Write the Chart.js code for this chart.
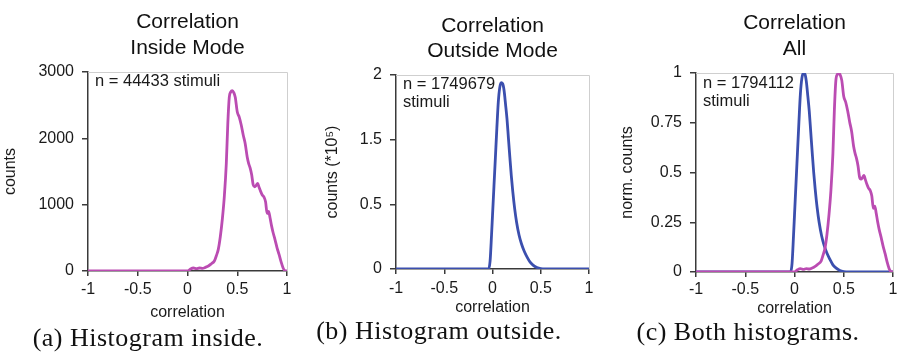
<!DOCTYPE html>
<html>
<head>
<meta charset="utf-8">
<title>Correlation histograms</title>
<script src="https://cdn.jsdelivr.net/npm/chart.js@4.4.1/dist/chart.umd.min.js"></script>
<style>
  html, body { margin: 0; padding: 0; background: #fff; }
  #fig { position: relative; width: 902px; height: 354px; overflow: hidden; }
  canvas { position: absolute; top: 0; }
  .caption {
    position: absolute;
    font-family: "Liberation Serif", "Times New Roman", serif;
    font-size: 26px;
    letter-spacing: 0.5px;
    color: #111;
    white-space: nowrap;
    line-height: 1;
    transform: translate(-50%, -50%);
  }
</style>
</head>
<body>
<div id="fig">
  <canvas id="chartInside" width="300" height="354" style="left:0px"></canvas>
  <canvas id="chartOutside" width="300" height="354" style="left:300px"></canvas>
  <canvas id="chartAll" width="302" height="354" style="left:600px"></canvas>
  <div class="caption" style="left:148px; top:338px">(a) Histogram inside.</div>
  <div class="caption" style="left:439px; top:331px">(b) Histogram outside.</div>
  <div class="caption" style="left:748px; top:332px">(c) Both histograms.</div>
</div>
<script>
// ---- data -------------------------------------------------------------
// correlation axis
const xTickValues = [-1, -0.5, 0, 0.5, 1];
const xTickLabels = ['-1', '-0.5', '0', '0.5', '1'];

// inside-mode histogram (counts per bin)
const insideX = [-1, 0, 0.03, 0.06, 0.09, 0.12, 0.15, 0.18, 0.21, 0.24, 0.27, 0.29, 0.31, 0.33,
  0.35, 0.37, 0.39, 0.405, 0.42, 0.435, 0.45, 0.465, 0.48, 0.50, 0.52, 0.54, 0.56, 0.58, 0.60,
  0.615, 0.63, 0.645, 0.66, 0.675, 0.69, 0.705, 0.72, 0.735, 0.75, 0.77, 0.785, 0.80, 0.815,
  0.83, 0.845, 0.86, 0.88, 0.90, 0.92, 0.94, 0.96, 0.975, 0.99, 1];
const insideCounts = [0, 0, 30, 45, 35, 45, 40, 55, 75, 110, 150, 230, 330, 520,
  780, 1120, 1620, 2220, 2620, 2700, 2720, 2690, 2620, 2400, 2320, 2200, 2050, 1920, 1720,
  1620, 1550, 1450, 1300, 1270, 1290, 1320, 1260, 1200, 1150, 1110, 1040, 870, 900,
  800, 680, 580, 470, 350, 250, 140, 50, 10, 0, 0];
const insideTicks = [0, 1000, 2000, 3000];

// outside-mode histogram (counts, axis units of 10^5)
const outsideX = [-1, -0.04, -0.025, -0.01, 0, 0.015, 0.03, 0.045, 0.06, 0.075, 0.09, 0.105,
  0.12, 0.135, 0.15, 0.165, 0.18, 0.195, 0.21, 0.23, 0.25, 0.275, 0.30, 0.33, 0.36, 0.39,
  0.42, 0.46, 0.50, 0.55, 1];
const outsideCounts = [0, 0, 0.08, 0.35, 0.55, 0.85, 1.15, 1.45, 1.72, 1.87, 1.92, 1.91,
  1.84, 1.70, 1.55, 1.35, 1.15, 0.96, 0.80, 0.62, 0.48, 0.35, 0.26, 0.18, 0.12, 0.07,
  0.04, 0.015, 0.003, 0, 0];
const outsideTickLabels = ['0', '0.5', '1.5', '2'];
const outsideTickValues = [0, 0.6667, 1.3333, 2];

// both histograms, normalised to their peaks
const allInsideNorm = [0, 0, 0.011, 0.017, 0.013, 0.017, 0.015, 0.020, 0.028, 0.040, 0.055, 0.085,
  0.121, 0.191, 0.287, 0.412, 0.596, 0.816, 0.963, 0.993, 1.000, 0.989, 0.963, 0.882, 0.853,
  0.809, 0.754, 0.706, 0.632, 0.596, 0.570, 0.533, 0.478, 0.467, 0.474, 0.485, 0.463, 0.441,
  0.423, 0.408, 0.382, 0.320, 0.331, 0.294, 0.250, 0.213, 0.173, 0.129, 0.092, 0.051, 0.018,
  0.004, 0, 0];
const allOutsideNorm = [0, 0, 0.042, 0.182, 0.286, 0.443, 0.599, 0.755, 0.896, 0.974, 1.000,
  0.995, 0.958, 0.885, 0.807, 0.703, 0.599, 0.500, 0.417, 0.323, 0.250, 0.182, 0.135, 0.094,
  0.063, 0.036, 0.021, 0.008, 0.002, 0, 0];
const allTicks = [0, 0.25, 0.5, 0.75, 1];

// ---- styling ----------------------------------------------------------
const SANS = "'Liberation Sans', Arial, Helvetica, sans-serif";
const PINK = '#bb4cb2';
const BLUE = '#3b4fae';
const AXIS = '#3a3a3a';
const TEXT = '#1a1a1a';

const pairs = (xs, ys) => xs.map((x, i) => ({ x, y: ys[i] }));

// light frame along the top and right edges of the plot area
const framePlugin = {
  id: 'frame',
  beforeDatasetsDraw(chart) {
    const { ctx, chartArea: a } = chart;
    ctx.save();
    ctx.strokeStyle = '#cfcfcf';
    ctx.lineWidth = 1;
    ctx.beginPath();
    ctx.moveTo(a.left, a.top + 0.5);
    ctx.lineTo(a.right + 0.5, a.top + 0.5);
    ctx.lineTo(a.right + 0.5, a.bottom);
    ctx.stroke();
    ctx.restore();
  }
};

// sample-size note in the upper-left corner of the plot area
const notePlugin = {
  id: 'note',
  afterDraw(chart, args, opts) {
    if (!opts.lines) return;
    const { ctx, chartArea: a } = chart;
    ctx.save();
    ctx.font = `16.5px ${SANS}`;
    ctx.fillStyle = TEXT;
    ctx.textAlign = 'left';
    ctx.textBaseline = 'middle';
    opts.lines.forEach((t, i) => ctx.fillText(t, a.left + opts.dx, a.top + opts.dy + i * 18));
    ctx.restore();
  }
};

function lineSet(points, color) {
  return {
    data: points,
    borderColor: color,
    borderWidth: 2.8,
    pointRadius: 0,
    cubicInterpolationMode: 'monotone',
    fill: false
  };
}

function makeChart(id, o) {
  return new Chart(document.getElementById(id), {
    type: 'line',
    data: { datasets: o.datasets },
    plugins: [framePlugin, notePlugin],
    options: {
      responsive: false,
      animation: false,
      events: [],
      layout: { padding: { left: o.padLeft, right: o.padRight, top: 0, bottom: 0 } },
      plugins: {
        legend: { display: false },
        tooltip: { enabled: false },
        title: {
          display: true,
          fullSize: false,
          text: o.title,
          color: '#111',
          font: { family: SANS, size: 21, weight: 'normal', lineHeight: o.titleLine + 'px' },
          padding: { top: o.titleTop, bottom: o.titleBottom }
        },
        note: { lines: o.note, dx: 7, dy: o.noteDy }
      },
      scales: {
        x: {
          type: 'linear',
          min: -1,
          max: 1,
          afterBuildTicks: s => { s.ticks = xTickValues.map(v => ({ value: v })); },
          afterFit: s => { s.height = o.xHeight; },
          ticks: {
            callback: (v, i) => xTickLabels[i],
            color: TEXT,
            font: { family: SANS, size: 16 },
            padding: o.xTickPad,
            maxRotation: 0,
            autoSkip: false
          },
          grid: { drawOnChartArea: false, drawTicks: true, tickLength: 5, color: AXIS, lineWidth: 1.5 },
          border: { display: true, color: AXIS, width: 1.5 },
          title: {
            display: true,
            text: 'correlation',
            color: TEXT,
            font: { family: SANS, size: 16 },
            padding: { top: 0, bottom: o.xTitleBottom }
          }
        },
        y: {
          type: 'linear',
          min: o.yMin,
          max: o.yMax,
          afterBuildTicks: s => { s.ticks = o.yTickValues.map(v => ({ value: v })); },
          afterFit: s => { s.width = o.yWidth; },
          ticks: {
            callback: (v, i) => o.yTickLabels[i],
            color: TEXT,
            font: { family: SANS, size: 16 },
            padding: 8,
            autoSkip: false
          },
          grid: { drawOnChartArea: false, drawTicks: true, tickLength: 6, color: AXIS, lineWidth: 1.5 },
          border: { display: true, color: AXIS, width: 1.5 },
          title: {
            display: true,
            text: o.yTitle,
            color: TEXT,
            font: { family: SANS, size: 16 },
            padding: { top: 0, bottom: 0 }
          }
        }
      }
    }
  });
}

// (a) inside mode
makeChart('chartInside', {
  datasets: [lineSet(pairs(insideX, insideCounts), PINK)],
  title: ['Correlation', 'Inside Mode'],
  titleLine: 26, titleTop: 9, titleBottom: 11,
  padLeft: 1, padRight: 13, yWidth: 87,
  xHeight: 83, xTickPad: 4, xTitleBottom: 32,
  yMin: 0, yMax: 3000,
  yTickValues: insideTicks, yTickLabels: insideTicks.map(String),
  yTitle: 'counts',
  note: ['n = 44433 stimuli'], noteDy: 9
});

// (b) outside mode
makeChart('chartOutside', {
  datasets: [lineSet(pairs(outsideX, outsideCounts), BLUE)],
  title: ['Correlation', 'Outside Mode'],
  titleLine: 25, titleTop: 14, titleBottom: 11,
  padLeft: 23, padRight: 11, yWidth: 73,
  xHeight: 85, xTickPad: 5, xTitleBottom: 37,
  yMin: 0, yMax: 2,
  yTickValues: outsideTickValues, yTickLabels: outsideTickLabels,
  yTitle: 'counts (*10⁵)',
  note: ['n = 1749679', 'stimuli'], noteDy: 9
});

// (c) both, normalised
makeChart('chartAll', {
  datasets: [
    Object.assign(lineSet(pairs(insideX, allInsideNorm), PINK), { order: 0 }),
    Object.assign(lineSet(pairs(outsideX, allOutsideNorm), BLUE), { order: 1 })
  ],
  title: ['Correlation', 'All'],
  titleLine: 26, titleTop: 10, titleBottom: 11,
  padLeft: 18, padRight: 9, yWidth: 78,
  xHeight: 82, xTickPad: 3, xTitleBottom: 36,
  yMin: 0, yMax: 1,
  yTickValues: allTicks, yTickLabels: allTicks.map(String),
  yTitle: 'norm. counts',
  note: ['n = 1794112', 'stimuli'], noteDy: 10
});
</script>
</body>
</html>
